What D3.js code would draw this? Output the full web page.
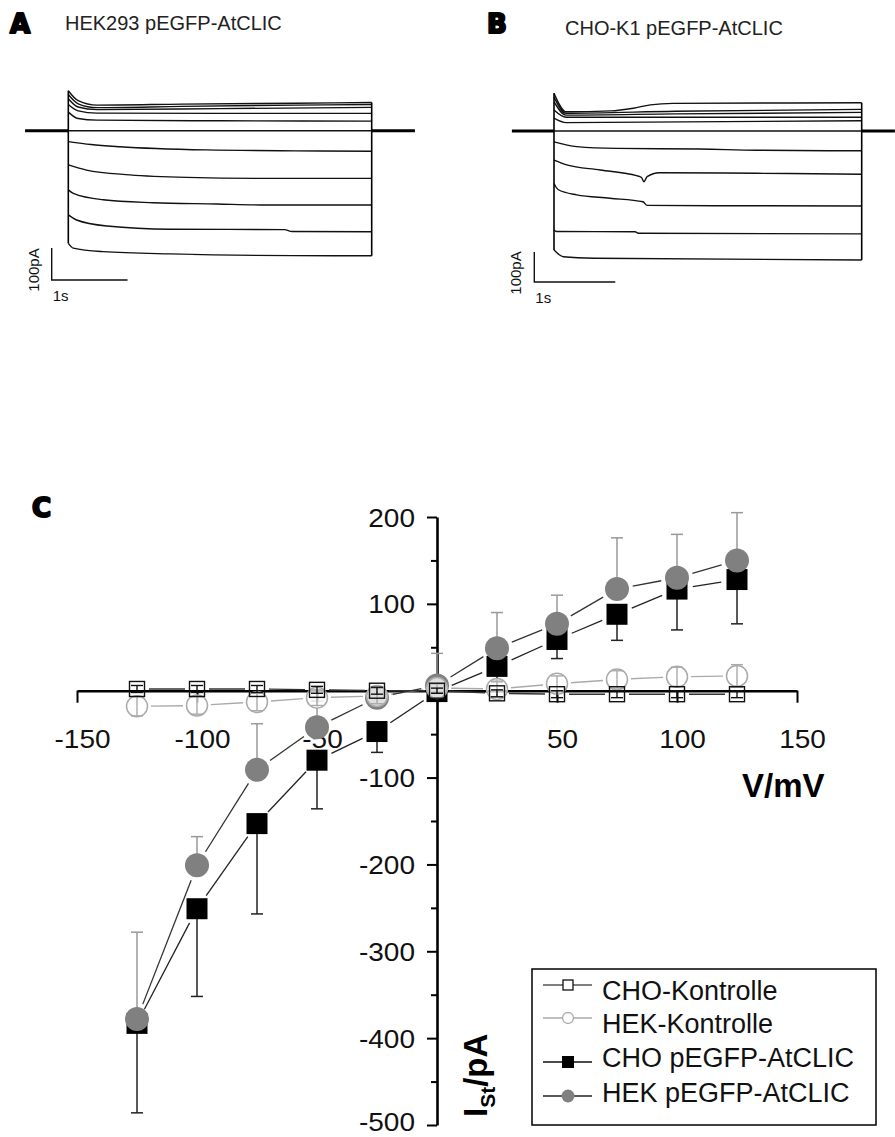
<!DOCTYPE html>
<html><head><meta charset="utf-8">
<script src="https://cdn.jsdelivr.net/npm/d3@7"></script>
<style>body{margin:0;background:#fff}svg{display:block}</style>
</head><body>
<svg id="fig" width="895" height="1137"></svg>
<script>
// ---------------- DATA ----------------
// Panel C: I/V data (mV, pA)
const volts = [-125,-100,-75,-50,-25,0,25,50,75,100,125];
const choKontrolle     = [2,2,2,1,0,0,-3,-4,-4,-4,-4];
const choKontrolleErr  = [4,4,4,4,4,3,4,4,4,4,4];
const hekKontrolle     = [-18,-17,-13,-8,-6,3,2,8,13,16,17];
const hekKontrolleErr  = [11,10,10,9,9,5,9,9,10,11,13];
const choAtCLIC        = [-383,-251,-153,-80,-47,-1,28,59,88,117,128];
const choAtCLICErr     = [103,101,104,56,24,5,18,22,30,47,51];
const hekAtCLIC        = [-378,-201,-91,-42,-8,6,49,77,117,130,150];
const hekAtCLICErr     = [100,33,53,30,12,37,41,33,59,50,55];
const xTickValues = [-150,-100,-50,50,100,150];
const yTickValues = [200,100,-100,-200,-300,-400,-500];
const yMinorTicks = [150,50,-50,-150,-250,-350,-450];
const legendLabels = ["CHO-Kontrolle","HEK-Kontrolle","CHO pEGFP-AtCLIC","HEK pEGFP-AtCLIC"];

// Panel A: current traces HEK293 pEGFP-AtCLIC ([time s, current pA])
const pulseA = 4;
const holdA = [-0.57, 4.57];
const tracesA = [
  [[0,125],[0.13,94],[0.38,80],[1.5,83],[3,86],[4,88]],
  [[0,113],[0.13,84],[0.38,72],[1.5,76],[3,80],[4,82]],
  [[0,100],[0.13,74],[0.38,66],[2,69],[4,73]],
  [[0,82],[0.13,62],[0.38,55],[2,54],[4,54]],
  [[0,58],[0.13,38],[0.38,33],[2,31],[4,30]],
  [[0,0],[4,0]],
  [[0,-34],[0.3,-43],[0.68,-50],[1.82,-60],[3.0,-63],[4,-64]],
  [[0,-107],[0.24,-123],[0.81,-138],[1.56,-146],[2.57,-149],[4,-149]],
  [[0,-185],[0.066,-196],[0.46,-216],[1.12,-225],[1.96,-229],[2.53,-232],[4,-232]],
  [[0,-263],[0.11,-279],[0.51,-298],[1.34,-308],[2.85,-309],[2.95,-315],[4,-316]],
  [[0,-352],[0.066,-367],[0.46,-378],[1.34,-385],[3.49,-391],[4,-391]]
];
// Panel B: current traces CHO-K1 pEGFP-AtCLIC
const pulseB = 3.8;
const holdB = [-0.52, 4.21];
const tracesB = [
  [[0,126],[0.15,64],[0.7,67],[0.98,76],[1.19,87],[1.47,92],[3.8,94]],
  [[0,113],[0.15,59],[1.5,66],[3.8,72]],
  [[0,97],[0.15,53],[1.5,57],[3.8,62]],
  [[0,70],[0.15,46],[3.8,46]],
  [[0,43],[0.15,28],[3.8,34]],
  [[0,0],[3.8,0]],
  [[0,-36],[0.28,-52],[0.77,-58],[1.8,-60],[2.5,-64],[3.8,-66]],
  [[0,-97],[0.157,-113],[0.57,-130],[1.02,-149],[1.08,-155],[1.11,-169],[1.15,-152],[1.3,-139],[2.5,-141],[3.8,-144]],
  [[0,-175],[0.05,-195],[0.28,-213],[0.69,-224],[1.1,-236],[1.15,-248],[3.8,-250]],
  [[0,-330],[0.03,-335],[1.0,-336],[1.05,-341],[3.8,-343]],
  [[0,-397],[0.115,-419],[0.5,-424],[3.8,-430]]
];
const scaleBarI = 100;  // pA
const scaleBarT = 1;    // s

// ---------------- DRAW ----------------
const svg = d3.select('#fig');
const FONT = "'Liberation Sans', Arial, sans-serif";

function panelLetter(txt, x, y, size) {
  svg.append('text').attr('x', x).attr('y', y).text(txt)
    .attr('font-family', "'DejaVu Sans', sans-serif").attr('font-weight', 'bold')
    .attr('font-size', size).attr('fill', '#000')
    .attr('stroke', '#000').attr('stroke-width', 2.2).attr('stroke-linejoin', 'round');
}

function tracePanel(traces, pulse, hold, xs, ys, barOrigin, title, titlePos) {
  const g = svg.append('g');
  const line = d3.line().x(d => xs(d[0])).y(d => ys(d[1])).curve(d3.curveMonotoneX);
  g.append('line').attr('x1', xs(hold[0])).attr('x2', xs(0)).attr('y1', ys(0)).attr('y2', ys(0))
    .attr('stroke', '#000').attr('stroke-width', 3);
  g.append('line').attr('x1', xs(pulse)).attr('x2', xs(hold[1])).attr('y1', ys(0)).attr('y2', ys(0))
    .attr('stroke', '#000').attr('stroke-width', 3);
  traces.forEach(tr => {
    g.append('path').attr('d', line(tr)).attr('fill', 'none')
      .attr('stroke', '#111').attr('stroke-width', 1.4);
  });
  const firsts = traces.map(t => t[0][1]);
  const lasts = traces.map(t => t[t.length - 1][1]);
  g.append('line').attr('x1', xs(0)).attr('x2', xs(0))
    .attr('y1', ys(d3.max(firsts))).attr('y2', ys(d3.min(firsts)))
    .attr('stroke', '#000').attr('stroke-width', 1.6);
  g.append('line').attr('x1', xs(pulse)).attr('x2', xs(pulse))
    .attr('y1', ys(d3.max(lasts))).attr('y2', ys(Math.min(0, d3.min(lasts))))
    .attr('stroke', '#000').attr('stroke-width', 1.6);
  const bh = ys(0) - ys(scaleBarI);
  const bw = xs(scaleBarT) - xs(0);
  const [bx, by] = barOrigin;
  g.append('path').attr('d', `M${bx},${by - bh}V${by}H${bx + bw}`)
    .attr('fill', 'none').attr('stroke', '#111').attr('stroke-width', 1.4);
  g.append('text').attr('transform', `translate(${bx - 13},${by - bh / 2 + 6}) rotate(-90)`)
    .attr('text-anchor', 'middle').attr('font-family', FONT).attr('font-size', 15)
    .attr('fill', '#111').text(scaleBarI + 'pA');
  g.append('text').attr('x', bx + 1).attr('y', by + 21)
    .attr('font-family', FONT).attr('font-size', 15).attr('fill', '#111').text(scaleBarT + 's');
  svg.append('text').attr('x', titlePos[0]).attr('y', titlePos[1]).text(title)
    .attr('font-family', FONT).attr('font-size', 20).attr('fill', '#222');
}

// Panel A
const xA = d3.scaleLinear().domain([0, pulseA]).range([68.3, 371.7]);
const yA = d3.scaleLinear().domain([0, 100]).range([130.7, 98.7]);
tracePanel(tracesA, pulseA, holdA, xA, yA, [51.7, 280], 'HEK293 pEGFP-AtCLIC', [65, 30]);
panelLetter('A', 10, 33, 26);

// Panel B
const xB = d3.scaleLinear().domain([0, pulseB]).range([554, 861.7]);
const yB = d3.scaleLinear().domain([0, 100]).range([131, 101]);
tracePanel(tracesB, pulseB, holdB, xB, yB, [534.3, 282], 'CHO-K1 pEGFP-AtCLIC', [565, 35]);
panelLetter('B', 487, 33, 26);

// Panel C
panelLetter('C', 32, 517, 26);
const x = d3.scaleLinear().domain([-150, 150]).range([77, 797]);
const y = d3.scaleLinear().domain([-500, 200]).range([1125, 517]);
const X0 = x(0), Y0 = y(0);

const hyph = v => (v < 0 ? '-' : '') + Math.abs(v);

const xAxis = svg.append('g').attr('transform', `translate(0,${Y0})`)
  .call(d3.axisBottom(x).tickValues(xTickValues).tickSize(12).tickSizeOuter(0).tickFormat(hyph));
xAxis.select('.domain').attr('stroke', '#000').attr('stroke-width', 2.6);
xAxis.selectAll('.tick line').attr('stroke', '#000').attr('stroke-width', 2);
xAxis.selectAll('.tick text').attr('y', null).attr('dy', null)
  .attr('transform', 'translate(5,57) scale(1.12,1)')
  .attr('font-family', FONT).attr('font-size', 25).attr('fill', '#111');

const yAxis = svg.append('g').attr('transform', `translate(${X0},0)`)
  .call(d3.axisLeft(y).tickValues(yTickValues).tickSize(10).tickSizeOuter(0).tickFormat(hyph));
yAxis.select('.domain').attr('stroke', '#000').attr('stroke-width', 2.6);
yAxis.selectAll('.tick line').attr('stroke', '#000').attr('stroke-width', 2);
yAxis.selectAll('.tick text').attr('x', null).attr('dy', null)
  .attr('transform', d => `translate(-22,${d === -500 ? 5 : 9}) scale(1.12,1)`)
  .attr('font-family', FONT).attr('font-size', 25).attr('fill', '#111');
const yMinor = svg.append('g').attr('transform', `translate(${X0},0)`)
  .call(d3.axisLeft(y).tickValues(yMinorTicks).tickSize(6).tickFormat(''));
yMinor.select('.domain').remove();
yMinor.selectAll('.tick line').attr('stroke', '#000').attr('stroke-width', 2);

svg.append('text').attr('x', 742).attr('y', 797).text('V/mV')
  .attr('font-family', FONT).attr('font-weight', 'bold').attr('font-size', 33).attr('fill', '#000');
const yl = svg.append('text').attr('transform', 'translate(487,1117) rotate(-90)')
  .attr('font-family', FONT).attr('font-weight', 'bold').attr('font-size', 33).attr('fill', '#000');
yl.append('tspan').text('I');
yl.append('tspan').attr('font-size', 21).attr('dy', 8).text('St');
yl.append('tspan').attr('dy', -8).text('/pA');

function gapLines(vals, gap, color, width) {
  const pts = volts.map((v, i) => [x(v), y(vals[i])]);
  for (let i = 0; i < pts.length - 1; i++) {
    const [x1, y1] = pts[i], [x2, y2] = pts[i + 1];
    const dx = x2 - x1, dy = y2 - y1, L = Math.hypot(dx, dy);
    if (L <= 2 * gap + 2) continue;
    const ux = dx / L, uy = dy / L;
    svg.append('line').attr('x1', x1 + ux * gap).attr('y1', y1 + uy * gap)
      .attr('x2', x2 - ux * gap).attr('y2', y2 - uy * gap)
      .attr('stroke', color).attr('stroke-width', width);
  }
}
function errBars(vals, errs, dir, color, width) {
  volts.forEach((v, i) => {
    const cx = x(v);
    const ends = [];
    if (dir === 'up' || dir === 'both') ends.push(vals[i] + errs[i]);
    if (dir === 'down' || dir === 'both') ends.push(vals[i] - errs[i]);
    ends.forEach(e => {
      svg.append('line').attr('x1', cx).attr('x2', cx).attr('y1', y(vals[i])).attr('y2', y(e))
        .attr('stroke', color).attr('stroke-width', width);
      svg.append('line').attr('x1', cx - 6).attr('x2', cx + 6).attr('y1', y(e)).attr('y2', y(e))
        .attr('stroke', color).attr('stroke-width', width);
    });
  });
}
function squares(vals, s, fill, stroke, sw) {
  volts.forEach((v, i) => svg.append('rect').attr('x', x(v) - s / 2).attr('y', y(vals[i]) - s / 2)
    .attr('width', s).attr('height', s).attr('fill', fill).attr('stroke', stroke).attr('stroke-width', sw));
}
function circles(vals, r, fill, stroke, sw) {
  volts.forEach((v, i) => svg.append('circle').attr('cx', x(v)).attr('cy', y(vals[i])).attr('r', r)
    .attr('fill', fill).attr('stroke', stroke).attr('stroke-width', sw));
}

gapLines(hekKontrolle, 14, '#aaa', 1.4);
gapLines(choKontrolle, 12, '#333', 1.4);
gapLines(choAtCLIC, 16, '#222', 1.3);
gapLines(hekAtCLIC, 16, '#333', 1.3);

errBars(choAtCLIC, choAtCLICErr, 'down', '#222', 1.5);
squares(choAtCLIC, 21, '#000', '#000', 0);
errBars(hekAtCLIC, hekAtCLICErr, 'up', '#999', 1.5);
circles(hekAtCLIC, 12, '#808080', 'none', 0);
circles(hekKontrolle, 10.5, 'rgba(255,255,255,0.75)', '#aaa', 1.5);
errBars(hekKontrolle, hekKontrolleErr, 'both', '#aaa', 1.4);
squares(choKontrolle, 15, 'none', '#111', 1.4);
errBars(choKontrolle, choKontrolleErr, 'both', '#111', 1.4);

const lg = svg.append('g');
lg.append('rect').attr('x', 532).attr('y', 969).attr('width', 344).attr('height', 156)
  .attr('fill', '#fff').attr('stroke', '#000').attr('stroke-width', 1.5);
const legRowY = [985, 1018, 1062, 1096];
const legTextY = [1000, 1033, 1067, 1102];
const legLineCol = ['#555', '#aaa', '#111', '#222'];
legendLabels.forEach((lab, i) => {
  const yy = legRowY[i];
  lg.append('line').attr('x1', 543).attr('x2', 592).attr('y1', yy).attr('y2', yy)
    .attr('stroke', legLineCol[i]).attr('stroke-width', 1.6);
  if (i === 0) lg.append('rect').attr('x', 563).attr('y', yy - 5).attr('width', 10).attr('height', 10)
    .attr('fill', '#fff').attr('stroke', '#111').attr('stroke-width', 1.3);
  if (i === 1) lg.append('circle').attr('cx', 568).attr('cy', yy).attr('r', 5.5)
    .attr('fill', '#fff').attr('stroke', '#aaa').attr('stroke-width', 1.3);
  if (i === 2) lg.append('rect').attr('x', 562).attr('y', yy - 6).attr('width', 12).attr('height', 12)
    .attr('fill', '#000');
  if (i === 3) lg.append('circle').attr('cx', 568).attr('cy', yy).attr('r', 6.5).attr('fill', '#808080');
  lg.append('text').attr('x', 602).attr('y', legTextY[i]).text(lab)
    .attr('font-family', FONT).attr('font-size', 27).attr('fill', '#111');
});
</script>
</body></html>
